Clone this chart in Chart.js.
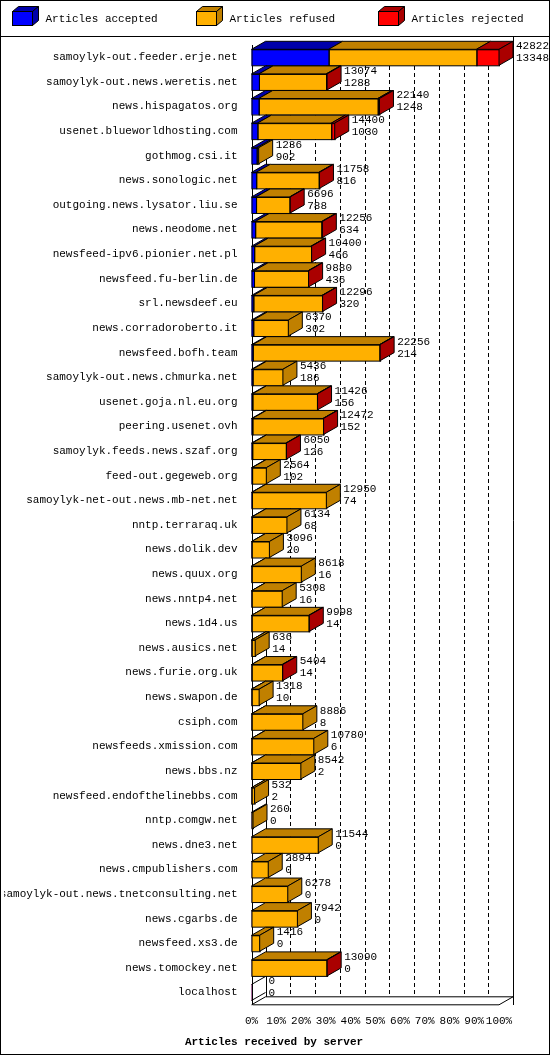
<!DOCTYPE html>
<html><head><meta charset="utf-8">
<script src="https://cdn.jsdelivr.net/npm/chart.js@4"></script>
<style>html,body{margin:0;padding:0;background:#fff}#w{width:550px;height:1055px;position:relative}</style>
</head><body><div id="w"><canvas id="c" width="550" height="1055"></canvas></div>
<script>
const servers=["samoylyk-out.feeder.erje.net","samoylyk-out.news.weretis.net","news.hispagatos.org","usenet.blueworldhosting.com","gothmog.csi.it","news.sonologic.net","outgoing.news.lysator.liu.se","news.neodome.net","newsfeed-ipv6.pionier.net.pl","newsfeed.fu-berlin.de","srl.newsdeef.eu","news.corradoroberto.it","newsfeed.bofh.team","samoylyk-out.news.chmurka.net","usenet.goja.nl.eu.org","peering.usenet.ovh","samoylyk.feeds.news.szaf.org","feed-out.gegeweb.org","samoylyk-net-out.news.mb-net.net","nntp.terraraq.uk","news.dolik.dev","news.quux.org","news.nntp4.net","news.1d4.us","news.ausics.net","news.furie.org.uk","news.swapon.de","csiph.com","newsfeeds.xmission.com","news.bbs.nz","newsfeed.endofthelinebbs.com","nntp.comgw.net","news.dne3.net","news.cmpublishers.com","samoylyk-out.news.tnetconsulting.net","news.cgarbs.de","newsfeed.xs3.de","news.tomockey.net","localhost"];
const offered=[42822,13074,22140,14400,1236,11758,6696,12256,10400,9880,12296,6370,22256,5436,11426,12472,6050,2564,12950,6134,3096,8618,5308,9998,636,5404,1318,8886,10780,8542,532,260,11544,2894,6278,7942,1416,13090,0];
const accepted=[13348,1288,1248,1030,902,816,788,634,466,436,320,302,214,186,156,152,126,102,74,68,20,16,16,14,14,14,10,8,6,2,2,0,0,0,0,0,0,0,0];
const rejected=[3900,150,300,600,0,120,100,150,100,100,100,0,100,0,100,100,100,0,0,0,0,0,0,100,0,100,0,0,0,0,0,0,0,0,0,0,0,100,0];
const refused=offered.map((t,i)=>Math.max(0,t-accepted[i]-rejected[i]));
const pctLabels=["0%","10%","20%","30%","40%","50%","60%","70%","80%","90%","100%"];
const MAX=42822, DX=14, DY=8;
const FONT='"Liberation Mono", "DejaVu Sans Mono", monospace';
const frontC=['#0000ff','#ffb000','#ff0000'], topC=['#0000aa','#c08000','#aa0000'];
const deco={id:'deco',
 beforeDatasetsDraw(ch){const c=ch.ctx,a=ch.chartArea,x=ch.scales.x;c.save();
  c.strokeStyle='#000';c.lineWidth=1;c.setLineDash([4,3]);
  for(let i=1;i<=10;i++){const px=Math.round(x.getPixelForValue(MAX*i/10))+0.5;c.beginPath();c.moveTo(px+DX,a.top);c.lineTo(px+DX,a.bottom-DY);c.stroke();}
  c.setLineDash([]);c.beginPath();c.moveTo(Math.round(a.left)+DX+0.5,a.top);c.lineTo(Math.round(a.left)+DX+0.5,a.bottom-DY);c.stroke();
  c.beginPath();c.moveTo(Math.round(a.left)+0.5,a.top);c.lineTo(Math.round(a.left)+0.5,a.bottom);c.lineTo(a.right,a.bottom);c.lineTo(a.right+DX,a.bottom-DY);c.stroke();
  c.beginPath();c.moveTo(a.left,a.bottom);c.lineTo(a.left+DX,a.bottom-DY);c.lineTo(a.right+DX,a.bottom-DY);c.stroke();
  c.restore();},
 afterDatasetsDraw(ch){const c=ch.ctx;c.save();c.lineWidth=1;c.strokeStyle='#000';
  const n=servers.length;
  for(let i=0;i<n;i++){let last=-1,lastEl=null;
   for(let d=0;d<3;d++){const el=ch.getDatasetMeta(d).data[i];const v=ch.data.datasets[d].data[i];if(!el||v<=0)continue;
    const x0=Math.min(el.base,el.x),x1=Math.max(el.base,el.x),y0=el.y-el.height/2;
    c.fillStyle=topC[d];c.beginPath();c.moveTo(x0,y0);c.lineTo(x0+DX,y0-DY);c.lineTo(x1+DX,y0-DY);c.lineTo(x1,y0);c.closePath();c.fill();c.stroke();
    c.strokeRect(x0+0.5,y0+0.5,x1-x0,el.height);last=d;lastEl=el;}
   const el0=ch.getDatasetMeta(0).data[i];const y0=el0.y-el0.height/2,h=el0.height;
   let xe=lastEl?lastEl.x:el0.base;
   if(lastEl){c.fillStyle=topC[last];c.beginPath();c.moveTo(xe,y0);c.lineTo(xe+DX,y0-DY);c.lineTo(xe+DX,y0+h-DY);c.lineTo(xe,y0+h);c.closePath();c.fill();c.stroke();}
   else{c.beginPath();c.moveTo(xe,y0+h);c.lineTo(xe+DX,y0+h-DY);c.moveTo(xe,y0);c.lineTo(xe+DX,y0-DY);c.stroke();}
   c.fillStyle='#000';c.font='11px '+FONT;c.textBaseline='middle';c.textAlign='left';
   c.fillText(String(offered[i]),xe+DX+3,y0-3);c.fillText(String(accepted[i]),xe+DX+3,y0+9);}
  const names=['Articles accepted','Articles refused','Articles rejected'],lx=[12,196,378];
  for(let d=0;d<3;d++){const x=lx[d]+0.5,y=11.5;
   c.fillStyle=topC[d];c.beginPath();c.moveTo(x,y);c.lineTo(x+6,y-5);c.lineTo(x+26,y-5);c.lineTo(x+20,y);c.closePath();c.fill();c.stroke();
   c.beginPath();c.moveTo(x+20,y);c.lineTo(x+26,y-5);c.lineTo(x+26,y+9);c.lineTo(x+20,y+14);c.closePath();c.fill();c.stroke();
   c.fillStyle=frontC[d];c.fillRect(x,y,20,14);c.strokeRect(x,y,20,14);
   c.fillStyle='#000';c.font='11px '+FONT;c.textAlign='left';c.textBaseline='middle';c.fillText(names[d],x+33,y+8);}
  c.beginPath();c.moveTo(0,36.5);c.lineTo(550,36.5);c.moveTo(513.5,36.5);c.lineTo(513.5,1005);c.stroke();
  c.strokeRect(0.5,0.5,549,1054);
  c.font='bold 11px '+FONT;c.textAlign='center';c.fillText('Articles received by server',274,1042);
  c.restore();}};
new Chart(document.getElementById('c'),{type:'bar',
 data:{labels:servers,datasets:[
  {label:'Articles accepted',data:accepted,backgroundColor:frontC[0]},
  {label:'Articles refused',data:refused,backgroundColor:frontC[1]},
  {label:'Articles rejected',data:rejected,backgroundColor:frontC[2]}]},
 options:{indexAxis:'y',responsive:false,animation:false,devicePixelRatio:1,
  layout:{padding:{top:45,right:51,bottom:25,left:4}},
  plugins:{legend:{display:false},tooltip:{enabled:false}},
  datasets:{bar:{barThickness:16,borderWidth:0}},
  scales:{
   x:{stacked:true,min:0,max:MAX,grid:{display:false},border:{display:false},
    afterBuildTicks(s){s.ticks=pctLabels.map((_,i)=>({value:MAX*i/10}));},
    ticks:{callback:(v,i)=>pctLabels[i],color:'#000',font:{family:FONT,size:11},padding:2,maxRotation:0,autoSkip:false}},
   y:{stacked:true,grid:{display:false},border:{display:false},
    ticks:{color:'#000',font:{family:FONT,size:11},autoSkip:false,padding:6}}}},
 plugins:[deco]});
</script></body></html>
